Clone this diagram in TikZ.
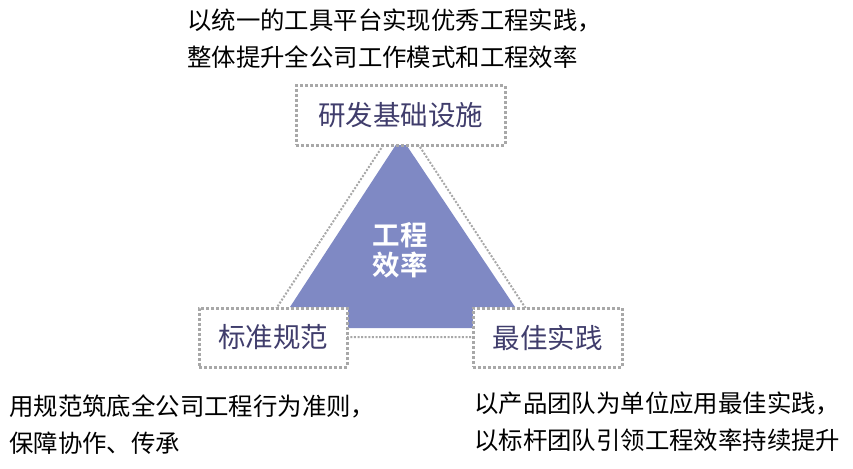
\documentclass[tikz,border=0pt]{standalone}
\usepackage{fontspec}
\usepackage{xcolor}
\usepackage{tikz}
\usetikzlibrary{positioning, backgrounds}
\setmainfont{Noto Sans CJK SC}[BoldFont={Noto Sans CJK SC Bold}]
\definecolor{triFill}{HTML}{7F89C4}
\definecolor{dotGray}{HTML}{A8A8A8}
\definecolor{labelInk}{HTML}{403D6C}

\begin{document}
\begin{tikzpicture}[
    x=1pt, y=-1pt,
    box/.style={draw=dotGray, fill=white, line width=3pt,
                dash pattern=on 3pt off 2pt, minimum height=59pt,
                inner sep=0pt, text=labelInk,
                font=\fontsize{27.5}{30}\selectfont},
    note/.style={align=left, inner sep=0pt, text=black,
                 font=\fontsize{24.4}{37}\selectfont},
    outline/.style={draw=dotGray, line width=2pt,
                    dash pattern=on 2pt off 1.6pt},
]
\useasboundingbox (0,0) rectangle (853,468);

% Dotted outer triangle
\draw[outline] (401,118) -- (270,318) -- (340,318) -- (340,337)
    -- (480,337) -- (480,318) -- (532,318) -- cycle;

% Filled triangle with stub
\fill[triFill] (401,137) -- (290,307) -- (348,307) -- (348,328)
    -- (473,328) -- (473,307) -- (515,307) -- cycle;
\node[text=white, align=center, inner sep=0pt,
      font=\fontsize{27.5}{30}\selectfont\bfseries] (core) at (400,250)
    {工程\\效率};

% Corner boxes
\node[box, minimum width=209pt] (infra) at (400.5,115.5) {研发基础设施};
\node[box, minimum width=148pt] (norms) at (273,337.5) {标准规范};
\node[box, minimum width=149pt] (practice) at (547.5,337.5) {最佳实践};

% Notes
\node[note, anchor=west] (infranote) at (187,38.5)
    {以统一的工具平台实现优秀工程实践，\\整体提升全公司工作模式和工程效率};
\node[note, anchor=west] (normsnote) at (9,425)
    {用规范筑底全公司工程行为准则，\\保障协作、传承};
\node[note, anchor=west] (practicenote) at (474,421.5)
    {以产品团队为单位应用最佳实践，\\以标杆团队引领工程效率持续提升};
\end{tikzpicture}
\end{document}
